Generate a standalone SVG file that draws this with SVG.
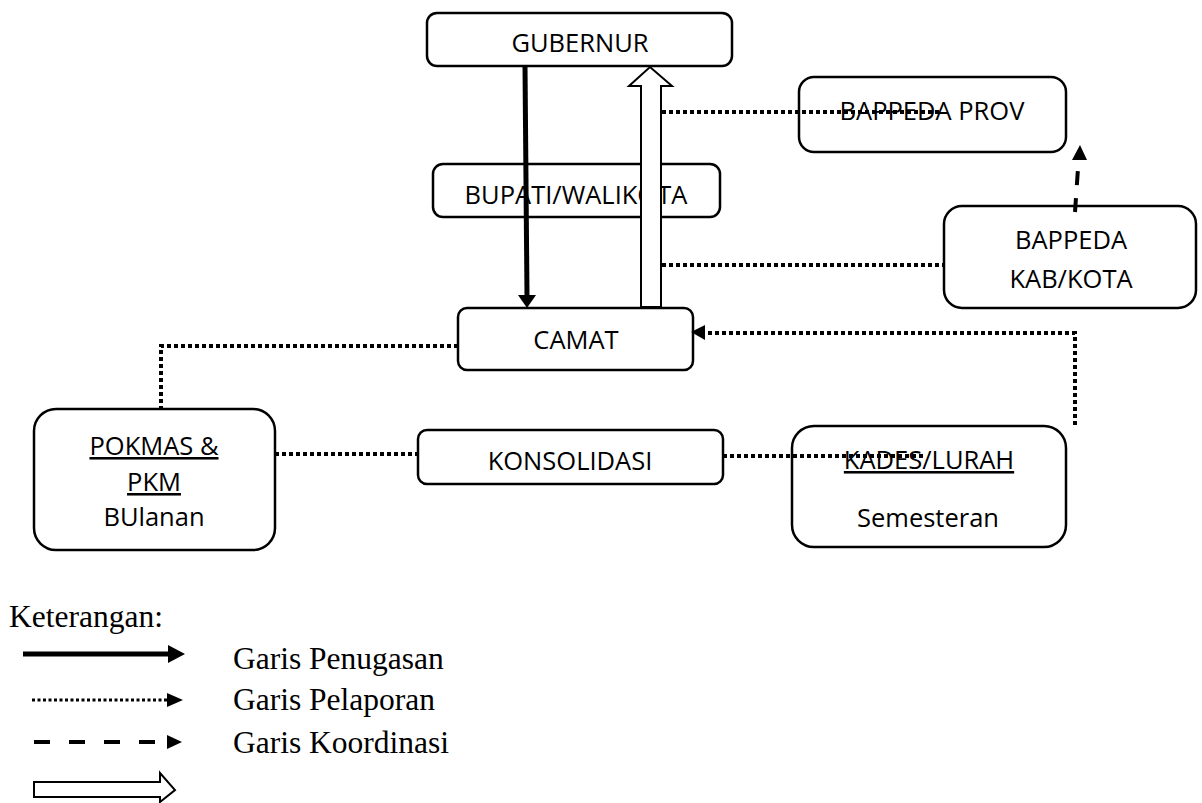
<svg xmlns="http://www.w3.org/2000/svg" width="1202" height="803" viewBox="0 0 1202 803">
<style>
.box{fill:#fff;stroke:#000;stroke-width:2.5}
.t{font-family:"Open Sans","Liberation Sans",sans-serif;font-size:25.5px;fill:#000;text-anchor:middle}
.u{text-decoration:underline}
.lg{font-family:"Liberation Serif","Times New Roman",serif;font-size:31.5px;fill:#000}
.dot{fill:none;stroke:#000;stroke-width:4;stroke-dasharray:4 3}
.dash{fill:none;stroke:#000;stroke-width:4;stroke-dasharray:14 13}
.solid{fill:none;stroke:#000;stroke-width:5}
.head{fill:#000;stroke:none}
.hollow{fill:#fff;stroke:#000;stroke-width:2}
</style>
<rect width="1202" height="803" fill="#fff"/>
<g id="nodes">
<g id="gubernur"><rect class="box" x="427" y="13" width="305" height="53" rx="10"/><text class="t" x="580" y="52">GUBERNUR</text></g>
<g id="bappeda-prov"><rect class="box" x="799" y="77" width="267" height="75" rx="15"/><text class="t" x="932" y="120">BAPPEDA PROV</text></g>
<g id="bupati"><rect class="box" x="433" y="164" width="287" height="53" rx="10"/><text class="t" x="576" y="204">BUPATI/WALIKOTA</text></g>
<g id="bappeda-kab"><rect class="box" x="944" y="206" width="252" height="102" rx="18"/><text class="t" x="1071" y="249">BAPPEDA</text><text class="t" x="1071" y="288">KAB/KOTA</text></g>
<g id="camat"><rect class="box" x="458" y="308" width="235" height="62" rx="9"/><text class="t" x="576" y="349">CAMAT</text></g>
<g id="pokmas"><rect class="box" x="34" y="409" width="241" height="141" rx="22"/><text class="t u" x="154" y="455">POKMAS &amp;</text><text class="t u" x="154" y="491">PKM</text><text class="t" x="154" y="526">BUlanan</text></g>
<g id="konsolidasi"><rect class="box" x="418" y="430" width="305" height="54" rx="9"/><text class="t" x="570" y="470">KONSOLIDASI</text></g>
<g id="kades"><rect class="box" x="792" y="426" width="274" height="121" rx="22"/><text class="t u" x="929" y="469">KADES/LURAH</text><text class="t" x="928" y="527">Semesteran</text></g>
</g>
<g id="connectors">
<path class="dot" d="M458 346 H161 V413"/>
<path class="dot" d="M275 454 H418"/>
<path class="dot" d="M723 456 H923"/>
<path class="dot" d="M1075 425 V333 H706"/>
<polygon class="head" points="705,325 705,340 691,332"/>
<path class="dot" d="M662 112 H940"/>
<path class="dot" d="M662 265 H944"/>
<path class="dash" d="M1075 212 L1078.5 161"/>
<polygon class="head" points="1072,160 1087,160 1080,145"/>
<path class="solid" d="M525 66 L527 296"/>
<polygon class="head" points="518,295 536,295 527,308"/>
<polygon class="hollow" points="641,307 641,86 629,86 650,67 672,86 661,86 661,307"/>
</g>
<g id="legend">
<text class="lg" x="9" y="627">Keterangan:</text>
<path class="solid" d="M23 654 H169"/>
<polygon class="head" points="168,645 168,663 185,654"/>
<text class="lg" x="233" y="669">Garis Penugasan</text>
<path fill="none" stroke="#000" stroke-width="3" stroke-dasharray="3 2.5" d="M32 700 H167"/>
<polygon class="head" points="167,693 167,707 183,700"/>
<text class="lg" x="233" y="710">Garis Pelaporan</text>
<path fill="none" stroke="#000" stroke-width="4" stroke-dasharray="16 19" d="M34 742 H167"/>
<polygon class="head" points="167,735 167,749 182,742"/>
<text class="lg" x="233" y="753">Garis Koordinasi</text>
<polygon class="hollow" points="34,782 160,782 160,773 175,790 160,802 160,797 34,797"/>
</g>
</svg>
